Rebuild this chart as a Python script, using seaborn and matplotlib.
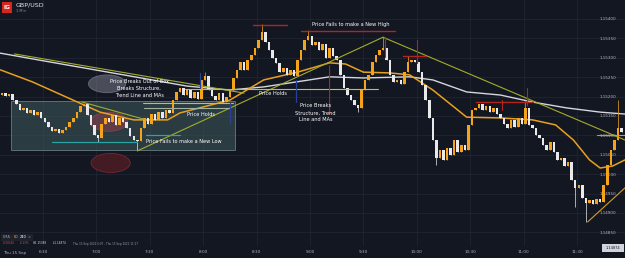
import numpy as np
import pandas as pd
import matplotlib
matplotlib.use("Agg")
import matplotlib.pyplot as plt
from matplotlib.patches import Rectangle, Ellipse
import seaborn as sns

# ---- data (GBP/USD, 15 Sep 2022) ----
def tm(s):
    # minutes after 06:00
    h, m = s.split(":")
    return (int(h) - 6) * 60 + int(m)

first_open = 1.15204
start_time = "06:07"
bar_minutes = 2
closes = [
    1.15209, 1.15202, 1.15207, 1.15191, 1.15181, 1.15165, 1.15171, 1.15158, 1.15165, 1.15153,
    1.15160, 1.15145, 1.15135, 1.15122, 1.15112, 1.15117, 1.15106, 1.15114, 1.15122, 1.15135,
    1.15145, 1.15160, 1.15176, 1.15181, 1.15153, 1.15127, 1.15101, 1.15093, 1.15130, 1.15145,
    1.15135, 1.15153, 1.15127, 1.15145, 1.15135, 1.15120, 1.15099, 1.15088, 1.15086, 1.15120,
    1.15145, 1.15130, 1.15155, 1.15140, 1.15160, 1.15145, 1.15165, 1.15158, 1.15191, 1.15212,
    1.15222, 1.15204, 1.15217, 1.15197, 1.15212, 1.15194, 1.15243, 1.15253, 1.15217, 1.15202,
    1.15191, 1.15209, 1.15186, 1.15199, 1.15217, 1.15248, 1.15269, 1.15289, 1.15269, 1.15294,
    1.15307, 1.15325, 1.15346, 1.15367, 1.15341, 1.15320, 1.15300, 1.15287, 1.15263, 1.15274,
    1.15256, 1.15269, 1.15253, 1.15294, 1.15320, 1.15346, 1.15356, 1.15333, 1.15341, 1.15320,
    1.15336, 1.15300, 1.15325, 1.15305, 1.15294, 1.15256, 1.15222, 1.15204, 1.15191, 1.15178,
    1.15171, 1.15217, 1.15243, 1.15256, 1.15289, 1.15307, 1.15320, 1.15325, 1.15294, 1.15256,
    1.15238, 1.15243, 1.15233, 1.15263, 1.15289, 1.15294, 1.15289, 1.15263, 1.15230, 1.15191,
    1.15145, 1.15088, 1.15042, 1.15063, 1.15037, 1.15068, 1.15050, 1.15088, 1.15058, 1.15075,
    1.15063, 1.15127, 1.15165, 1.15171, 1.15181, 1.15165, 1.15176, 1.15160, 1.15171, 1.15155,
    1.15145, 1.15130, 1.15120, 1.15140, 1.15122, 1.15145, 1.15130, 1.15171, 1.15127, 1.15120,
    1.15101, 1.15093, 1.15075, 1.15063, 1.15083, 1.15058, 1.15037, 1.15042, 1.15022, 1.15032,
    1.14985, 1.14965, 1.14972, 1.14939, 1.14926, 1.14934, 1.14923, 1.14937, 1.14929, 1.14972,
    1.15024, 1.15063, 1.15088, 1.15120, 1.15109,
]
wick_high = {57: 1.15263, 73: 1.15388, 86: 1.15372, 107: 1.15353, 114: 1.15305, 147: 1.15189, 173: 1.15191}
wick_low = {27: 1.15083, 38: 1.15063, 100: 1.15160, 122: 1.15024, 161: 1.14916, 164: 1.14877}

ema_times = ["06:06", "06:24", "06:43", "07:02", "07:21", "07:40", "07:47", "08:15", "08:34",
             "08:53", "09:11", "09:20", "09:30", "09:45", "09:56", "10:09", "10:28", "10:47",
             "11:05", "11:18", "11:28", "11:37", "11:43", "11:50", "11:57"]
ema60 = [1.15269, 1.15238, 1.15199, 1.15160, 1.15140, 1.15140, 1.15158, 1.15191, 1.15243,
         1.15263, 1.15287, 1.15284, 1.15263, 1.15261, 1.15256, 1.15217, 1.15147, 1.15145,
         1.15140, 1.15127, 1.15088, 1.15037, 1.15016, 1.15021, 1.15037]
ema240_times = ["06:06", "06:28", "07:19", "07:51", "08:15", "08:34", "09:11", "09:30", "09:56",
                "10:09", "10:28", "10:47", "11:05", "11:24", "11:43", "11:57"]
ema240 = [1.15312, 1.15294, 1.15253, 1.15227, 1.15217, 1.15225, 1.15251, 1.15248, 1.15251,
          1.15243, 1.15212, 1.15204, 1.15186, 1.15171, 1.15160, 1.15155]

x_ticks = ["06:30", "07:00", "07:30", "08:00", "08:30", "09:00", "09:30", "10:00", "10:30", "11:00", "11:30"]
y_ticks = [1.1485, 1.1490, 1.1495, 1.1500, 1.1505, 1.1510, 1.1515, 1.1520, 1.1525, 1.1530, 1.1535, 1.1540]

# drawn annotations (time, price)
box = ("06:12", "08:18", 1.15063, 1.15189)
olive_lines = [(("06:14", 1.15310), ("08:23", 1.15209)),
               (("06:52", 1.15186), ("07:28", 1.15140)),
               (("07:23", 1.15060), ("09:41", 1.15353)),
               (("09:41", 1.15353), ("11:57", 1.15088))]
level_lines = [("07:50", "09:38", 1.15220, "#c9c238"),
               ("07:26", "08:17", 1.15184, "#c9c238"),
               ("07:27", "08:15", 1.15171, "#9fb3a0")]
teal_lines = [("06:35", "07:23", 1.15083), ("07:28", "07:47", 1.15101)]
blue_marks = [("07:58", 1.15261, 1.15222), ("08:15", 1.15184, 1.15132), ("08:52", 1.15243, 1.15186)]
red_hlines = [("08:28", "08:47", 1.15385), ("08:55", "09:48", 1.15369),
              ("09:52", "10:05", 1.15305), ("10:33", "11:05", 1.15186)]
red_vlines = [("09:42", 1.15353, 1.15302), ("10:00", 1.15346, 1.15287),
              ("11:02", 1.15222, 1.15178), ("10:48", 1.15191, 1.15165)]
red_arrow = ("09:11", 1.15287, 1.15145)
orange_lines = [(("11:41", 1.15101), ("11:57", 1.15101)),
                (("11:36", 1.14877), ("11:57", 1.14965))]
ellipses = [("07:06", 1.15233, 21, 0.00046, "#8e8ea0", 0.45, "#a9a9bb"),
            ("07:07", 1.15135, 21, 0.00049, "#a3404c", 0.45, "#b85060"),
            ("07:08", 1.15029, 22, 0.00049, "#4a1c24", 0.9, "#7a2a33")]
notes = [("07:24", 1.15222, "Price Breaks Out of Box\nBreaks Structure,\nTrend Line and MAs"),
         ("07:59", 1.15153, "Price Holds"),
         ("08:39", 1.15207, "Price Holds"),
         ("07:49", 1.15083, "Price Fails to make a New Low"),
         ("09:23", 1.15387, "Price Fails to make a New High"),
         ("09:03", 1.15158, "Price Breaks\nStructure, Trend\nLine and MAs")]

# ---- build candles ----
t0 = tm(start_time)
times = np.array([t0 + bar_minutes * i for i in range(len(closes))], dtype=float)
opens = [first_open] + closes[:-1]
df = pd.DataFrame({"t": times, "open": opens, "close": closes})
df["high"] = df[["open", "close"]].max(axis=1)
df["low"] = df[["open", "close"]].min(axis=1)
for i, v in wick_high.items():
    df.loc[i, "high"] = v
for i, v in wick_low.items():
    df.loc[i, "low"] = v
df["up"] = df["close"] >= df["open"]

BG = "#131722"
UP = "#f5a31a"
DOWN = "#e9e9ec"

sns.set_theme(style="dark", rc={"axes.facecolor": BG, "figure.facecolor": BG})
plt.rcParams["font.family"] = ["DejaVu Sans"]

fig = plt.figure(figsize=(6.25, 2.58), dpi=100)
ax = fig.add_axes([0, 0, 1, 1])
ax.set_facecolor(BG)

x_left = tm("06:30") - 43 * 30 / 53.4
x_right = tm("06:30") + (625 - 43) * 30 / 53.4
y_top = 1.154 + 19 / 19.4 * 0.0005
y_bot = 1.154 - 239 / 19.4 * 0.0005
ax.set_xlim(x_left, x_right)
ax.set_ylim(y_bot, y_top)

# grid
for t in x_ticks:
    ax.axvline(tm(t), ymin=13 / 258, color="#1f2531", lw=0.6, zorder=0)
for v in y_ticks:
    ax.axhline(v, color="#1f2531", lw=0.6, zorder=0)

# box and ellipses (behind candles)
ax.add_patch(Rectangle((tm(box[0]), box[2]), tm(box[1]) - tm(box[0]), box[3] - box[2],
                       facecolor="#3e5a5d", alpha=0.55, edgecolor="#8fa9ab", lw=0.7, zorder=1))
for t, p, w, h, fc, a, ec in ellipses:
    ax.add_patch(Ellipse((tm(t), p), w, h, facecolor=fc, alpha=a, edgecolor=ec, lw=0.6, zorder=1.5))

# EMAs
sns.lineplot(x=[tm(t) for t in ema240_times], y=ema240, ax=ax, color="#d6d6dc", lw=1.0, zorder=2)
sns.lineplot(x=[tm(t) for t in ema_times], y=ema60, ax=ax, color="#e8a020", lw=1.1, zorder=2)

# candles
colors = np.where(df["up"], UP, DOWN)
ax.vlines(df["t"], df["low"], df["high"], colors=colors, lw=0.5, zorder=3)
body = (df["close"] - df["open"]).abs().clip(lower=0.000012)
ax.bar(df["t"], body, bottom=df[["open", "close"]].min(axis=1), width=bar_minutes * 0.7,
       color=colors, edgecolor="none", zorder=4)

# trend lines and levels
for (ta, pa), (tb, pb) in olive_lines:
    ax.plot([tm(ta), tm(tb)], [pa, pb], color="#a3ac2c", lw=0.8, zorder=5)
for ta, tb, p, c in level_lines:
    ax.plot([tm(ta), tm(tb)], [p, p], color=c, lw=0.8, zorder=5)
for ta, tb, p in teal_lines:
    ax.plot([tm(ta), tm(tb)], [p, p], color="#26a5a4", lw=0.9, zorder=5)
for t, pa, pb in blue_marks:
    ax.plot([tm(t), tm(t)], [pa, pb], color="#2a3f9a", lw=0.9, zorder=5)
for ta, tb, p in red_hlines:
    ax.plot([tm(ta), tm(tb)], [p, p], color="#b3261e", lw=1.0, zorder=5)
for t, pa, pb in red_vlines:
    ax.plot([tm(t), tm(t)], [pa, pb], color="#b3261e", lw=0.8, zorder=5)
ax.annotate("", xy=(tm(red_arrow[0]), red_arrow[2]), xytext=(tm(red_arrow[0]), red_arrow[1]),
            arrowprops=dict(arrowstyle="-|>", color="#b3261e", lw=0.8, mutation_scale=3), zorder=5)
for (ta, pa), (tb, pb) in orange_lines:
    ax.plot([tm(ta), tm(tb)], [pa, pb], color="#d89a20", lw=0.8, zorder=5)

for t, p, s in notes:
    ax.text(tm(t), p, s, color="white", fontsize=3.6, ha="center", va="center",
            linespacing=1.5, zorder=6)

# axes labels inside the plot, TradingView style
ax.set_xticks([tm(t) for t in x_ticks])
ax.set_xticklabels([t.lstrip("0") for t in x_ticks])
ax.set_yticks(y_ticks)
ax.set_yticklabels([f"{v:.5f}" for v in y_ticks])
ax.yaxis.tick_right()
ax.tick_params(axis="y", direction="in", length=0, pad=-18, labelsize=3, labelcolor="#b2b5be")
ax.tick_params(axis="x", direction="in", length=0, pad=-5.5, labelsize=3, labelcolor="#b2b5be")
for lab in ax.get_yticklabels():
    lab.set_horizontalalignment("left")
ax.grid(False)
for sp in ax.spines.values():
    sp.set_visible(False)
ax.set_xlabel("")
ax.set_ylabel("")

tr = ax.transAxes
ax.text(3 / 625, 1 - 253 / 258, "Thu 15 Sep", transform=tr, fontsize=3, color="#b2b5be", va="center")

# header
ax.add_patch(Rectangle((2 / 625, 1 - 13 / 258), 10 / 625, 11 / 258, transform=tr,
                       facecolor="#d9261c", edgecolor="none", zorder=7))
ax.text(7 / 625, 1 - 7.5 / 258, "IG", transform=tr, fontsize=4.2, color="white", weight="bold",
        ha="center", va="center", zorder=8)
ax.text(16 / 625, 1 - 5 / 258, "GBP/USD", transform=tr, fontsize=4.6, color="#e0e3eb", va="center")
ax.text(16 / 625, 1 - 11.5 / 258, "1 Min", transform=tr, fontsize=2.6, color="#9598a1", va="center")

# legend at bottom left
ax.add_patch(Rectangle((1 / 625, 1 - 240.5 / 258), 32 / 625, 7 / 258, transform=tr,
                       facecolor="#1e222d", edgecolor="none", zorder=7))
ax.text(3 / 625, 1 - 237 / 258, "EMA", transform=tr, fontsize=2.6, color="#9598a1", va="center", zorder=8)
ax.text(13.5 / 625, 1 - 237 / 258, "60", transform=tr, fontsize=2.6, color=UP, va="center", zorder=8)
ax.text(19.5 / 625, 1 - 237 / 258, "240", transform=tr, fontsize=2.6, color="white", va="center", zorder=8)
ax.text(28 / 625, 1 - 237 / 258, "\u00d7", transform=tr, fontsize=2.6, color="#9598a1", va="center", zorder=8)
stats = [(3, "-0.00146", "#e0443a"), (20, "-0.13%", "#e0443a"), (33, "H:1.15388", "#d1d4dc"),
         (53, "L:1.14874", "#d1d4dc"), (73, "Thu 15 Sep 2022 6:07 - Thu 15 Sep 2022 11:57", "#9598a1")]
for xp, s, c in stats:
    ax.text(xp / 625, 1 - 243.5 / 258, s, transform=tr, fontsize=2.0, color=c, va="center")

# price tag at bottom right
ax.add_patch(Rectangle((602 / 625, 1 - 252 / 258), 22 / 625, 8 / 258, transform=tr,
                       facecolor="#d1d4dc", edgecolor="none", zorder=7))
ax.text(613 / 625, 1 - 248 / 258, "1.14874", transform=tr, fontsize=2.6, color="#131722",
        ha="center", va="center", zorder=8)

leg = ax.get_legend()
if leg:
    leg.remove()

fig.savefig("out.png", dpi=100, facecolor=BG)
